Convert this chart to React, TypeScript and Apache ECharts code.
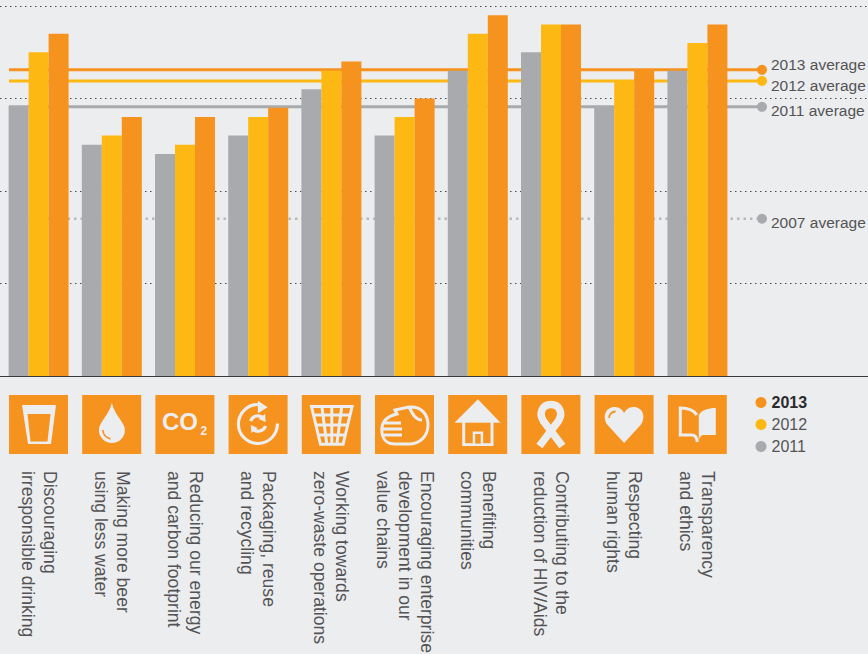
import React, { useEffect, useRef } from "react";
import * as echarts from "echarts";

const categories = [
  "Discouraging\nirresponsible drinking",
  "Making more beer\nusing less water",
  "Reducing our energy\nand carbon footprint",
  "Packaging, reuse\nand recycling",
  "Working towards\nzero-waste operations",
  "Encouraging enterprise\ndevelopment in our\nvalue chains",
  "Benefiting\ncommunities",
  "Contributing to the\nreduction of HIV/Aids",
  "Respecting\nhuman rights",
  "Transparency\nand ethics",
];
const values2011 = [2.92, 2.5, 2.4, 2.6, 3.1, 2.6, 3.3, 3.5, 2.9, 3.3];
const values2012 = [3.5, 2.6, 2.5, 2.8, 3.3, 2.8, 3.7, 3.8, 3.2, 3.6];
const values2013 = [3.7, 2.8, 2.8, 2.9, 3.4, 3.0, 3.9, 3.8, 3.3, 3.8];
const averageNames = ["2011 average", "2007 average", "2012 average", "2013 average"];
const averageValues = [2.91, 1.7, 3.19, 3.31];
const legendYears = ["2013", "2012", "2011"];

const ORANGE = "#F6921E";
const YELLOW = "#FDB813";
const GRAY = "#A9AAAD";
const BG = "#ECEDEF";
const TEXT = "#545456";
const FONT = "'Liberation Sans', Arial, sans-serif";

const shapes: Record<string, string> = {
  drop: "M29.7 7.7 C27 20 16.7 27 16.7 35 A13 13 0 0 0 42.7 35 C42.7 27 32 20 29.7 7.7 Z",
  heart: "M29.5 48 L13 30 C7 22 11 12 20 12 C25 12 28 15 29.5 18 C31 15 34 12 39 12 C48 12 52 22 46 30 Z",
  recycle: "M29.3 9.5 A19.5 19.5 0 1 0 48.8 28.5 M22 26 A8 8 0 0 1 35 23 M37 31 A8 8 0 0 1 24 34",
  basket:
    "M9.7 11.5 L50.3 11.5 L41.3 49.3 L18.7 49.3 Z M11.9 20 L48.1 20 M14.2 30 L45.8 30 M16.5 40 L43.5 40 M20 11 L25 49.3 M30 11 L30 49.3 M40 11 L35 49.3",
  hand:
    "M34 12 C47 11 53 20 53 30 C53 41 45 49 34 49 L20 49 C11 49 6.8 43 6.8 35 C6.8 26 13 21 22 19 L20 15 L34 12 M34 12 C38 20 41 25 47 25 M8 28 L26 28 M7.5 34 L27 34 M8.5 40 L27 40",
  ribbon: "M18 51 L37 26 C42 18 38 9.5 29.5 9.5 C21 9.5 17 18 22 26 L41 51",
  bookRight: "M31 20 C34 15 40 13 48 13 L48 40 L36 40 C33 40 31.5 42 31 47 Z",
  bookLeft: "M29 20 C26 15 20 13 12.5 13 L12.5 40 L24 40 C27 40 29 42 29.5 47",
};
let registered = false;
function registerShapes() {
  if (registered) return;
  registered = true;
  Object.keys(shapes).forEach((k) => {
    echarts.graphic.registerShape("ic_" + k, echarts.graphic.extendPath(shapes[k], {}) as any);
  });
}

const fillS = (n: string) => ({ type: "ic_" + n, style: { fill: BG } });
const strokeS = (n: string, w: number) => ({ type: "ic_" + n, style: { fill: "none", stroke: BG, lineWidth: w } });
const poly = (points: number[][], fill: string) => ({ type: "polygon", shape: { points }, style: { fill } });

const iconChildren: any[][] = [
  [poly([[13, 10], [47, 10], [42, 49], [19, 49]], BG), poly([[18.5, 19], [41.5, 19], [38.5, 46.5], [21.5, 46.5]], ORANGE)],
  [fillS("drop"), { type: "arc", shape: { cx: 29.7, cy: 35, r: 9, startAngle: Math.PI * 0.55, endAngle: Math.PI }, style: { fill: "none", stroke: ORANGE, lineWidth: 1.6 } }],
  [
    { type: "text", x: 6.5, y: 14, style: { text: "CO", fill: BG, font: `bold 24px ${FONT}` } },
    { type: "text", x: 45, y: 30, style: { text: "2", fill: BG, font: `bold 12px ${FONT}` } },
  ],
  [
    strokeS("recycle", 3.2),
    poly([[29.3, 5.7], [39, 12.3], [29.3, 18.3]], BG),
    poly([[36.5, 19], [37, 27], [30, 24]], BG),
    poly([[23, 38], [22, 30], [29, 33]], BG),
  ],
  [strokeS("basket", 3)],
  [strokeS("hand", 3)],
  [
    poly([[29.7, 4.3], [6.3, 27.7], [52.3, 27.7]], BG),
    { type: "rect", shape: { x: 14, y: 27, width: 31.3, height: 24 }, style: { fill: BG } },
    { type: "rect", shape: { x: 17, y: 27.7, width: 25.3, height: 20.5 }, style: { fill: ORANGE } },
    { type: "rect", shape: { x: 24.5, y: 36.5, width: 10.5, height: 12 }, style: { fill: BG } },
    { type: "rect", shape: { x: 27, y: 39, width: 5.5, height: 9.5 }, style: { fill: ORANGE } },
  ],
  [strokeS("ribbon", 7.5)],
  [fillS("heart"), { type: "arc", shape: { cx: 21, cy: 23, r: 6.5, startAngle: Math.PI, endAngle: Math.PI * 1.5 }, style: { fill: "none", stroke: ORANGE, lineWidth: 1.8 } }],
  [fillS("bookRight"), strokeS("bookLeft", 3)],
];

export default function App() {
  const ref = useRef<HTMLDivElement>(null);
  useEffect(() => {
    document.body.style.margin = "0";
    document.body.style.background = BG;
    registerShapes();
    const chart = echarts.init(ref.current!, undefined, { renderer: "svg" });
    const barSeries = [
      { name: "2011", color: GRAY, data: values2011 },
      { name: "2012", color: YELLOW, data: values2012 },
      { name: "2013", color: ORANGE, data: values2013 },
    ].map((s) => ({
      type: "bar",
      name: s.name,
      data: s.data,
      xAxisIndex: 0,
      yAxisIndex: 0,
      barWidth: 20,
      barGap: 0,
      z: 3,
      silent: true,
      itemStyle: { color: s.color },
    }));
    const avgColors = [GRAY, "#B7B8BB", YELLOW, ORANGE];
    const dotColors = [GRAY, GRAY, YELLOW, ORANGE];
    const labelOffsets = [4, 4, 5, -5];
    const lineStart = 9;
    const lineEnd = 762;
    const lineSeries = averageNames.map((name, i) => ({
      type: "line",
      name,
      xAxisIndex: 1,
      yAxisIndex: 1,
      z: 2,
      silent: true,
      showAllSymbol: true,
      symbol: "none",
      lineStyle: { color: avgColors[i], width: i === 1 ? 2.5 : 3, type: i === 1 ? [2.5, 4] : "solid" },
      data: [
        { value: [lineStart, averageValues[i]], symbol: "none" },
        {
          value: [lineEnd, averageValues[i]],
          symbol: "circle",
          symbolSize: 10,
          itemStyle: { color: dotColors[i] },
          label: {
            show: true,
            position: "right",
            distance: 4,
            offset: [0, labelOffsets[i]],
            formatter: name,
            color: TEXT,
            fontFamily: FONT,
            fontSize: 15.5,
          },
        },
      ],
    }));
    const icons = iconChildren.map((children, i) => ({
      type: "group",
      x: 9 + i * 73.2,
      y: 395,
      children: [{ type: "rect", shape: { x: 0, y: 0, width: 59, height: 59 }, style: { fill: ORANGE } }, ...children],
    }));
    chart.setOption({
      animation: false,
      backgroundColor: BG,
      grid: [
        { left: 2, top: 6, width: 732, height: 370, outerBoundsMode: "none" },
        { left: 0, top: 6, width: 868, height: 370, outerBoundsMode: "none" },
      ],
      xAxis: [
        {
          type: "category",
          gridIndex: 0,
          data: categories,
          axisLine: { show: false },
          axisTick: { show: false },
          axisLabel: {
            interval: 0,
            hideOverlap: false,
            rotate: -90,
            margin: 95,
            color: TEXT,
            fontFamily: FONT,
            fontSize: 17.6,
            lineHeight: 22,
          },
        },
        {
          type: "value",
          gridIndex: 1,
          min: 0,
          max: 868,
          axisLine: { show: true, lineStyle: { color: "#3A3A3C", width: 1 } },
          axisTick: { show: false },
          axisLabel: { show: false },
          splitLine: { show: false },
        },
      ],
      yAxis: [
        { type: "value", gridIndex: 0, min: 0, max: 4, interval: 1, show: false },
        {
          type: "value",
          gridIndex: 1,
          min: 0,
          max: 4,
          interval: 1,
          axisLine: { show: false },
          axisTick: { show: false },
          axisLabel: { show: false },
          splitLine: { show: true, lineStyle: { color: "#4A4A4C", width: 1, type: [1.5, 3.5] } },
        },
      ],
      legend: {
        show: true,
        orient: "vertical",
        left: 750.5,
        top: 389.5,
        icon: "circle",
        itemWidth: 11,
        itemHeight: 11,
        itemGap: 6,
        data: legendYears,
        selectedMode: false,
        formatter: (n: string) => (n === "2013" ? `{b|${n}}` : n),
        textStyle: {
          color: TEXT,
          fontFamily: FONT,
          fontSize: 16,
          lineHeight: 16,
          rich: { b: { fontWeight: "bold", color: "#2B2B2D", fontFamily: FONT, fontSize: 16 } },
        },
      },
      series: [...lineSeries, ...barSeries],
      graphic: icons,
    });
    return () => chart.dispose();
  }, []);
  return <div ref={ref} style={{ position: "absolute", left: 0, top: 0, width: 868, height: 654 }} />;
}
